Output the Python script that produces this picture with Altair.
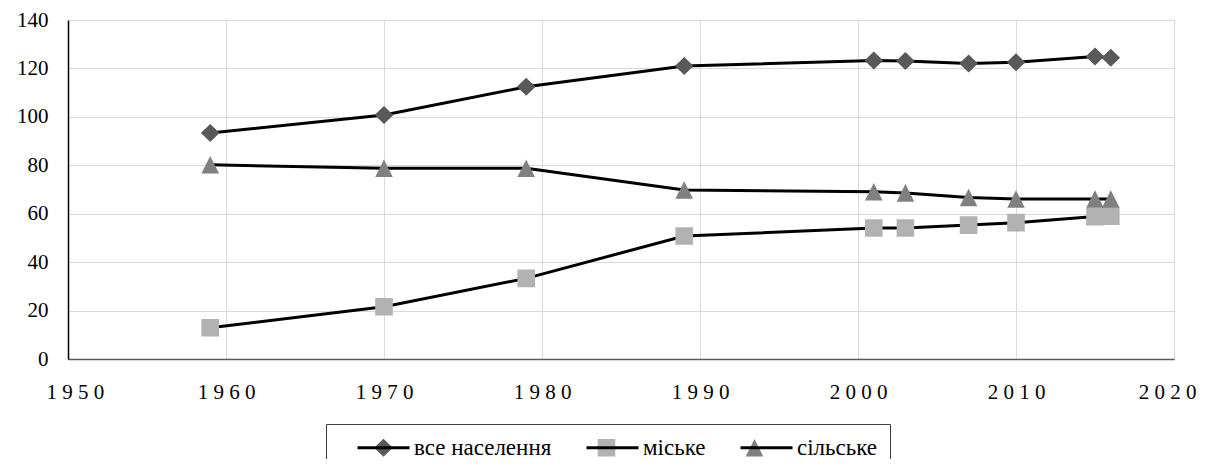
import altair as alt
import pandas as pd

years = [1959, 1970, 1979, 1989, 2001, 2003, 2007, 2010, 2015, 2016]
total = [93.3, 100.8, 112.4, 121.0, 123.3, 123.1, 122.0, 122.6, 124.9, 124.4]
urban = [12.9, 21.6, 33.3, 50.8, 54.1, 54.1, 55.3, 56.3, 58.8, 59.0]
rural = [80.2, 78.8, 78.8, 69.8, 69.1, 68.6, 66.7, 66.1, 66.1, 66.1]
series = ["все населення", "міське", "сільське"]
x_ticks = [1950, 1960, 1970, 1980, 1990, 2000, 2010, 2020]
y_ticks = [0, 20, 40, 60, 80, 100, 120, 140]

rows = []
for name, vals in zip(series, [total, urban, rural]):
    for yr, v in zip(years, vals):
        rows.append({"year": yr, "value": v, "series": name, "line_series": name})
df = pd.DataFrame(rows)

FONT = "'Liberation Serif', 'Times New Roman', serif"
SYM = 400  # 20px unit
# marker glyphs; the zero-area "M-2.6,0L2.6,0" only widens the bounds so both
# legends (lines and markers) get the same entry layout
line_sym = "M-2.6,0L2.6,0"
shapes = [
    "M0,-0.9L0.93,0L0,0.9L-0.93,0Z" + line_sym,
    "M-0.88,-0.88L0.88,-0.88L0.88,0.88L-0.88,0.88Z" + line_sym,
    "M0,-0.88L0.88,0.88L-0.88,0.88Z" + line_sym,
]
fills = ["#595959", "#b2b2b2", "#808080"]

LX, LY, LPAD = 258, 404, 12
common = dict(orient="none", legendX=LX, legendY=LY, direction="horizontal",
              title=" ", titleOrient="left", titleFontSize=1, titlePadding=34,
              symbolSize=SYM, labelFont=FONT, labelFontSize=23,
              labelOffset=19, columnPadding=28, padding=LPAD, labelLimit=400)

x_enc = alt.X("year:Q",
              scale=alt.Scale(domain=[1950, 2020], nice=False, zero=False),
              axis=alt.Axis(values=x_ticks, title=None, ticks=False,
                            labelFlush=True, labelFlushOffset=22,
                            labelExpr="slice(toString(datum.value),0,1)+' '+slice(toString(datum.value),1,2)+' '+slice(toString(datum.value),2,3)+' '+slice(toString(datum.value),3,4)",
                            labelFont=FONT, labelFontSize=21, labelColor="#000000",
                            labelPadding=22, domainColor="#595959", domainWidth=1.5,
                            gridColor="#d9d9d9", gridWidth=1))
y_enc = alt.Y("value:Q",
              scale=alt.Scale(domain=[0, 140], nice=False),
              axis=alt.Axis(values=y_ticks, title=None, ticks=False,
                            labelFont=FONT, labelFontSize=21, labelColor="#000000",
                            labelPadding=20, domainColor="#000000", domainWidth=1.5,
                            gridColor="#d9d9d9", gridWidth=1))

line_legend = alt.Legend(symbolType=line_sym, symbolStrokeWidth=3,
                         symbolStrokeColor="#000000", labelColor="#000000",
                         strokeColor="#404040", **common)

pt_legend = alt.Legend(symbolStrokeWidth=0, labelOpacity=0, **common)

lines = alt.Chart(df).mark_line(strokeWidth=3).encode(
    x=x_enc, y=y_enc,
    color=alt.Color("line_series:N", scale=alt.Scale(range=["#000000"] * 3),
                    legend=line_legend),
)

points = alt.Chart(df).mark_point(filled=True, opacity=1, size=SYM, strokeWidth=0).encode(
    x=x_enc, y=y_enc,
    shape=alt.Shape("series:N", scale=alt.Scale(range=shapes), legend=pt_legend),
    fill=alt.Fill("series:N", scale=alt.Scale(range=fills), legend=pt_legend),
)

chart = alt.layer(lines, points).resolve_scale(color="independent").properties(
    width=1106, height=339,
    autosize=alt.AutoSizeParams(type="none"),
    padding={"left": 60, "top": 12, "right": 23, "bottom": 100},
).configure_view(stroke=None).configure(background="white")

chart.save("out.html", embed_options={"renderer": "svg", "actions": False})
